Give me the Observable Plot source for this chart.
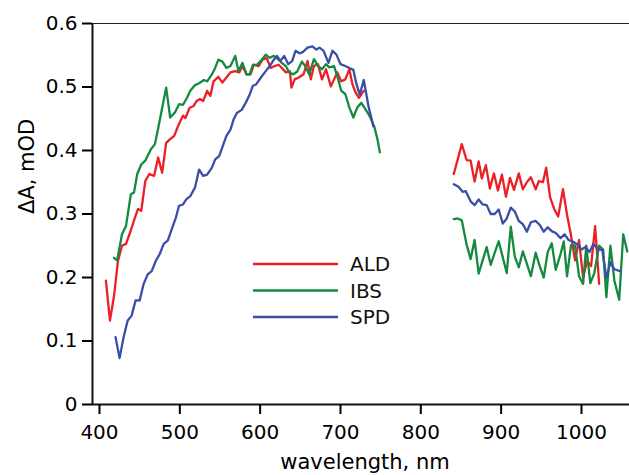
<!DOCTYPE html>
<html><head><meta charset="utf-8">
<script src="https://cdn.jsdelivr.net/npm/d3@7"></script>
<script src="https://cdn.jsdelivr.net/npm/@observablehq/plot@0.6"></script>
<style>body{margin:0;background:#fff} #chart{width:629px;height:475px}</style>
</head><body><div id="chart"></div>
<script>
const seriesNames = ["ALD", "IBS", "SPD"];
const seriesColors = ["#ec1f26", "#138a3d", "#3a4ea8"];
const xTitle = "wavelength, nm";
const yTitle = "ΔA, mOD";
const xTicks = [400, 500, 600, 700, 800, 900, 1000];
const yTicks = [0, 0.1, 0.2, 0.3, 0.4, 0.5, 0.6];
const yTickLabels = ["0", "0.1", "0.2", "0.3", "0.4", "0.5", "0.6"];

// ALD (red); null marks the spectral gap
const aldNm = [408,413,418,423,428,433,439,444,448,452,457,462,468,473,478,483,488,493,498,504,507,512,517,521,525,529,534,538,542,548,553,558,563,569,574,578,583,588,592,598,603,608,613,618,623,627,632,637,639,643,648,654,659,663,667,672,677,682,688,692,696,701,706,711,715,719,723,729,
  795,
  841,846,851,857,862,867,872,876,881,886,891,896,901,906,911,916,922,927,932,937,943,947,952,956,961,966,971,977,982,987,992,997,1002,1007,1012,1017,1022];
const aldDA = [0.195,0.132,0.170,0.226,0.250,0.253,0.274,0.294,0.308,0.305,0.352,0.363,0.360,0.389,0.365,0.412,0.418,0.423,0.439,0.455,0.451,0.467,0.470,0.478,0.481,0.478,0.494,0.486,0.509,0.516,0.507,0.515,0.523,0.525,0.523,0.533,0.520,0.520,0.535,0.533,0.543,0.546,0.530,0.533,0.535,0.530,0.523,0.525,0.499,0.512,0.515,0.520,0.541,0.512,0.533,0.536,0.512,0.528,0.501,0.512,0.523,0.509,0.512,0.528,0.504,0.491,0.483,0.494,
  null,
  0.363,0.386,0.410,0.385,0.384,0.351,0.383,0.356,0.377,0.340,0.364,0.337,0.362,0.327,0.357,0.338,0.364,0.339,0.350,0.358,0.339,0.352,0.350,0.373,0.326,0.308,0.296,0.339,0.299,0.266,0.227,0.259,0.200,0.226,0.218,0.281,0.190];

// IBS (green)
const ibsNm = [418,422,428,433,439,443,447,452,457,464,469,474,478,483,488,494,499,504,509,513,519,524,530,534,540,544,548,553,558,563,569,573,578,583,587,591,596,602,607,612,617,623,627,632,636,641,646,652,656,661,667,672,677,682,686,692,696,701,706,711,716,721,726,731,736,742,746,749,
  795,
  841,846,851,857,862,867,872,877,882,887,892,897,902,907,912,917,922,927,932,937,943,948,953,958,963,968,974,978,982,987,992,997,1002,1006,1011,1016,1022,1027,1031,1036,1041,1047,1052,1057];
const ibsDA = [0.231,0.227,0.268,0.281,0.331,0.334,0.363,0.378,0.384,0.402,0.410,0.441,0.467,0.499,0.452,0.460,0.473,0.472,0.483,0.494,0.503,0.506,0.511,0.509,0.520,0.530,0.543,0.540,0.530,0.533,0.549,0.525,0.538,0.520,0.520,0.535,0.535,0.543,0.551,0.546,0.549,0.543,0.538,0.533,0.523,0.520,0.524,0.540,0.533,0.520,0.544,0.533,0.528,0.536,0.531,0.533,0.517,0.494,0.489,0.468,0.452,0.468,0.475,0.465,0.455,0.438,0.418,0.397,
  null,
  0.292,0.293,0.290,0.252,0.229,0.259,0.206,0.227,0.248,0.220,0.239,0.257,0.232,0.207,0.280,0.233,0.216,0.241,0.222,0.202,0.239,0.218,0.200,0.240,0.254,0.212,0.237,0.257,0.202,0.251,0.250,0.202,0.190,0.250,0.191,0.207,0.250,0.244,0.169,0.250,0.195,0.165,0.268,0.241];

// SPD (blue)
const spdNm = [420,425,430,435,440,445,450,455,460,465,470,475,480,485,490,495,499,504,508,513,519,524,529,534,540,544,549,554,558,563,567,571,577,582,587,591,595,601,607,612,617,621,625,630,635,640,644,649,653,659,665,670,674,679,685,690,695,700,706,711,716,720,724,729,735,741,
  795,
  841,847,852,856,862,867,872,877,882,887,892,897,902,907,912,917,922,927,932,937,943,948,953,958,963,968,974,979,984,990,995,1000,1005,1010,1015,1020,1026,1031,1036,1041,1048];
const spdDA = [0.106,0.073,0.106,0.132,0.140,0.164,0.164,0.190,0.205,0.210,0.226,0.237,0.253,0.258,0.276,0.294,0.313,0.315,0.323,0.328,0.342,0.370,0.360,0.362,0.373,0.386,0.391,0.409,0.423,0.433,0.449,0.459,0.464,0.475,0.488,0.502,0.504,0.515,0.525,0.533,0.543,0.549,0.541,0.549,0.536,0.541,0.557,0.553,0.555,0.562,0.564,0.559,0.562,0.557,0.538,0.557,0.551,0.536,0.533,0.530,0.527,0.504,0.488,0.511,0.469,0.438,
  null,
  0.347,0.343,0.335,0.336,0.320,0.314,0.323,0.315,0.314,0.300,0.300,0.307,0.285,0.293,0.310,0.304,0.289,0.284,0.272,0.287,0.289,0.283,0.272,0.279,0.273,0.270,0.262,0.268,0.259,0.256,0.252,0.244,0.248,0.240,0.253,0.245,0.243,0.199,0.224,0.213,0.210];

const rows = [];
function addSeries(name, nm, dA) { nm.forEach((x, i) => rows.push({ name, nm: x, dA: dA[i] })); }
addSeries("ALD", aldNm, aldDA);
addSeries("IBS", ibsNm, ibsDA);
addSeries("SPD", spdNm, spdDA);

const xDomain = [391.3, 1059.8];

const chart = Plot.plot({
  width: 629, height: 475,
  marginLeft: 92, marginRight: 0, marginTop: 23, marginBottom: 71,
  x: { domain: xDomain },
  y: { domain: [0, 0.6] },
  color: { domain: seriesNames, range: seriesColors },
  style: { fontFamily: "DejaVu Sans", fontSize: "20px", background: "white", color: "black", overflow: "visible" },
  marks: [
    Plot.ruleY([0.6], { stroke: "#222", strokeWidth: 1 }),
    Plot.line(rows, { x: "nm", y: "dA", z: "name", stroke: "name", strokeWidth: 2.3, strokeLinejoin: "round" }),
    Plot.ruleY([0], { stroke: "#111", strokeWidth: 2 }),
    Plot.ruleX([xDomain[0]], { stroke: "#111", strokeWidth: 2 }),
    Plot.axisX({ ticks: xTicks, tickSize: 10, tickPadding: 10, strokeWidth: 2, fontSize: 20, label: null, tickFormat: d => String(d) }),
    Plot.axisY({ ticks: yTicks, tickSize: 10, tickPadding: 5, strokeWidth: 2, fontSize: 20, label: null, tickFormat: d => yTickLabels[yTicks.indexOf(d)] }),
    Plot.text([xTitle], { frameAnchor: "bottom", dy: 64, dx: 4, lineAnchor: "bottom", text: d => d, fontSize: 21 }),
    Plot.text([yTitle], { frameAnchor: "left", dx: -59, rotate: -90, lineAnchor: "bottom", text: d => d, fontSize: 21 })
  ]
});

// in-plot legend
const legend = d3.select(chart).append("g")
  .attr("font-family", "DejaVu Sans").attr("font-size", 20).attr("text-anchor", "start");
seriesNames.forEach((name, i) => {
  const y = 264 + i * 26.5;
  legend.append("line").attr("x1", 253).attr("x2", 338).attr("y1", y).attr("y2", y)
    .attr("stroke", seriesColors[i]).attr("stroke-width", 2.3);
  legend.append("text").attr("x", 350).attr("y", y).attr("dy", "0.36em")
    .attr("text-anchor", "start").attr("fill", "#111").text(name);
});

document.getElementById("chart").appendChild(chart);
</script>
</body></html>
